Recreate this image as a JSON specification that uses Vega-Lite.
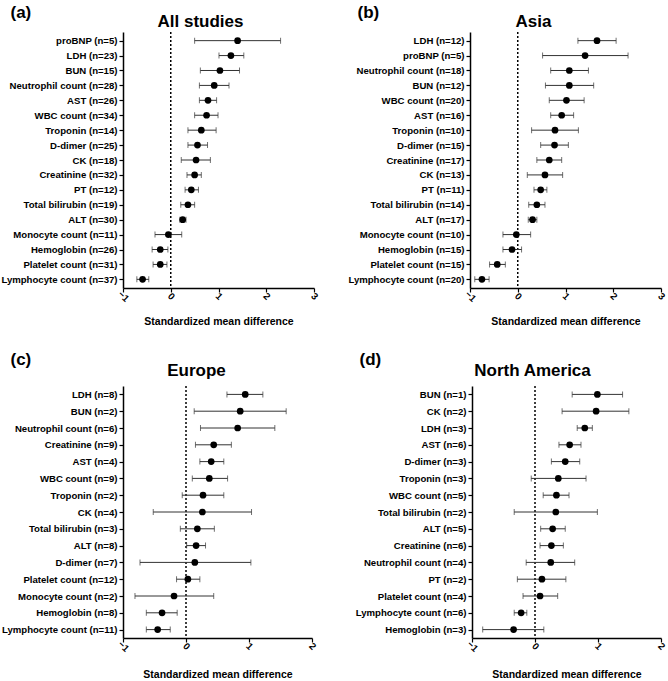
{
  "$schema": "https://vega.github.io/schema/vega-lite/v6.json",
  "padding": {"left": 0, "top": 3, "right": 0, "bottom": 0},
  "background": "white",
  "config": {
    "font": "Liberation Sans",
    "view": {"stroke": null},
    "axis": {"grid": false, "domainColor": "black", "domainWidth": 1.5, "tickColor": "black", "tickWidth": 1.2, "tickSize": 4, "labelColor": "black", "labelFontWeight": "bold", "labelFontSize": 9.6, "titleColor": "black", "titleFontWeight": "bold", "titleFontSize": 10.5},
    "title": {"fontSize": 17, "fontWeight": "bold", "color": "black", "anchor": "middle", "frame": "group"}
  },
  "datasets": {
    "a": [
      {"label": "proBNP (n=5)", "smd": 1.40, "lo": 0.50, "hi": 2.30},
      {"label": "LDH (n=23)", "smd": 1.26, "lo": 1.01, "hi": 1.53},
      {"label": "BUN (n=15)", "smd": 1.03, "lo": 0.62, "hi": 1.44},
      {"label": "Neutrophil count (n=28)", "smd": 0.91, "lo": 0.60, "hi": 1.22},
      {"label": "AST (n=26)", "smd": 0.78, "lo": 0.60, "hi": 0.96},
      {"label": "WBC count (n=34)", "smd": 0.75, "lo": 0.50, "hi": 0.99},
      {"label": "Troponin (n=14)", "smd": 0.64, "lo": 0.36, "hi": 0.95},
      {"label": "D-dimer (n=25)", "smd": 0.56, "lo": 0.36, "hi": 0.77},
      {"label": "CK (n=18)", "smd": 0.53, "lo": 0.22, "hi": 0.83},
      {"label": "Creatinine (n=32)", "smd": 0.50, "lo": 0.34, "hi": 0.64},
      {"label": "PT (n=12)", "smd": 0.43, "lo": 0.30, "hi": 0.58},
      {"label": "Total bilirubin (n=19)", "smd": 0.36, "lo": 0.21, "hi": 0.50},
      {"label": "ALT (n=30)", "smd": 0.25, "lo": 0.19, "hi": 0.32},
      {"label": "Monocyte count (n=11)", "smd": -0.05, "lo": -0.33, "hi": 0.23},
      {"label": "Hemoglobin (n=26)", "smd": -0.22, "lo": -0.39, "hi": -0.06},
      {"label": "Platelet count (n=31)", "smd": -0.22, "lo": -0.37, "hi": -0.08},
      {"label": "Lymphocyte count (n=37)", "smd": -0.59, "lo": -0.71, "hi": -0.46}
    ],
    "b": [
      {"label": "LDH (n=12)", "smd": 1.66, "lo": 1.26, "hi": 2.06},
      {"label": "proBNP (n=5)", "smd": 1.41, "lo": 0.52, "hi": 2.31},
      {"label": "Neutrophil count (n=18)", "smd": 1.08, "lo": 0.69, "hi": 1.48},
      {"label": "BUN (n=12)", "smd": 1.08, "lo": 0.58, "hi": 1.59},
      {"label": "WBC count (n=20)", "smd": 1.02, "lo": 0.66, "hi": 1.39},
      {"label": "AST (n=16)", "smd": 0.92, "lo": 0.69, "hi": 1.17},
      {"label": "Troponin (n=10)", "smd": 0.78, "lo": 0.29, "hi": 1.27},
      {"label": "D-dimer (n=15)", "smd": 0.77, "lo": 0.48, "hi": 1.06},
      {"label": "Creatinine (n=17)", "smd": 0.66, "lo": 0.40, "hi": 0.92},
      {"label": "CK (n=13)", "smd": 0.57, "lo": 0.20, "hi": 0.94},
      {"label": "PT (n=11)", "smd": 0.48, "lo": 0.34, "hi": 0.61},
      {"label": "Total bilirubin (n=14)", "smd": 0.40, "lo": 0.23, "hi": 0.57},
      {"label": "ALT (n=17)", "smd": 0.31, "lo": 0.22, "hi": 0.40},
      {"label": "Monocyte count (n=10)", "smd": -0.03, "lo": -0.31, "hi": 0.27},
      {"label": "Hemoglobin (n=15)", "smd": -0.12, "lo": -0.31, "hi": 0.08},
      {"label": "Platelet count (n=15)", "smd": -0.43, "lo": -0.59, "hi": -0.26},
      {"label": "Lymphocyte count (n=20)", "smd": -0.75, "lo": -0.90, "hi": -0.60}
    ],
    "c": [
      {"label": "LDH (n=8)", "smd": 0.94, "lo": 0.65, "hi": 1.22},
      {"label": "BUN (n=2)", "smd": 0.86, "lo": 0.13, "hi": 1.59},
      {"label": "Neutrophil count (n=6)", "smd": 0.82, "lo": 0.23, "hi": 1.41},
      {"label": "Creatinine (n=9)", "smd": 0.44, "lo": 0.15, "hi": 0.72},
      {"label": "AST (n=4)", "smd": 0.40, "lo": 0.22, "hi": 0.60},
      {"label": "WBC count (n=9)", "smd": 0.37, "lo": 0.10, "hi": 0.66},
      {"label": "Troponin (n=2)", "smd": 0.27, "lo": -0.06, "hi": 0.60},
      {"label": "CK (n=4)", "smd": 0.26, "lo": -0.52, "hi": 1.04},
      {"label": "Total bilirubin (n=3)", "smd": 0.18, "lo": -0.09, "hi": 0.45},
      {"label": "ALT (n=8)", "smd": 0.16, "lo": 0.01, "hi": 0.31},
      {"label": "D-dimer (n=7)", "smd": 0.14, "lo": -0.73, "hi": 1.03},
      {"label": "Platelet count (n=12)", "smd": 0.03, "lo": -0.15, "hi": 0.22},
      {"label": "Monocyte count (n=2)", "smd": -0.19, "lo": -0.81, "hi": 0.44},
      {"label": "Hemoglobin (n=8)", "smd": -0.38, "lo": -0.63, "hi": -0.14},
      {"label": "Lymphocyte count (n=11)", "smd": -0.45, "lo": -0.63, "hi": -0.25}
    ],
    "d": [
      {"label": "BUN (n=1)", "smd": 0.99, "lo": 0.59, "hi": 1.39},
      {"label": "CK (n=2)", "smd": 0.97, "lo": 0.43, "hi": 1.49},
      {"label": "LDH (n=3)", "smd": 0.79, "lo": 0.67, "hi": 0.91},
      {"label": "AST (n=6)", "smd": 0.55, "lo": 0.38, "hi": 0.73},
      {"label": "D-dimer (n=3)", "smd": 0.48, "lo": 0.26, "hi": 0.71},
      {"label": "Troponin (n=3)", "smd": 0.37, "lo": -0.06, "hi": 0.81},
      {"label": "WBC count (n=5)", "smd": 0.34, "lo": 0.13, "hi": 0.54},
      {"label": "Total bilirubin (n=2)", "smd": 0.33, "lo": -0.33, "hi": 0.99},
      {"label": "ALT (n=5)", "smd": 0.28, "lo": 0.09, "hi": 0.48},
      {"label": "Creatinine (n=6)", "smd": 0.26, "lo": 0.08, "hi": 0.45},
      {"label": "Neutrophil count (n=4)", "smd": 0.25, "lo": -0.14, "hi": 0.63},
      {"label": "PT (n=2)", "smd": 0.11, "lo": -0.28, "hi": 0.49},
      {"label": "Platelet count (n=4)", "smd": 0.08, "lo": -0.19, "hi": 0.36},
      {"label": "Lymphocyte count (n=6)", "smd": -0.22, "lo": -0.33, "hi": -0.13},
      {"label": "Hemoglobin (n=3)", "smd": -0.34, "lo": -0.83, "hi": 0.14}
    ],
    "zero": [{"z": 0}]
  },
  "vconcat": [
    {
      "hconcat": [
        {
          "width": 191, "height": 256,
          "title": {"text": "All studies", "dx": -18, "offset": -28},
          "data": {"name": "a"},
          "encoding": {
            "y": {"field": "label", "type": "nominal", "sort": null, "scale": {"type": "point", "padding": 0.58},
              "axis": {"title": "(a)", "titleAngle": 0, "titleAlign": "left", "titleBaseline": "alphabetic", "titleX": -113, "titleY": -15, "titleFontSize": 17, "labelPadding": 2}}
          },
          "layer": [
            {"data": {"name": "zero"}, "mark": {"type": "rule", "strokeDash": [2, 2], "strokeWidth": 1.5, "color": "black"}, "encoding": {"x": {"field": "z", "type": "quantitative"}, "y": null}},
            {"mark": {"type": "errorbar", "color": "#333333", "thickness": 1, "ticks": {"size": 6}}, "encoding": {"x": {"field": "lo", "type": "quantitative", "scale": {"domain": [-1, 3], "nice": false, "zero": false}, "axis": {"values": [-1, 0, 1, 2, 3], "format": "d", "labelAngle": 45, "labelAlign": "center", "labelBaseline": "middle", "labelPadding": 4, "title": "Standardized mean difference", "titlePadding": 13}}, "x2": {"field": "hi"}}},
            {"mark": {"type": "point", "filled": true, "size": 45, "color": "black", "opacity": 1}, "encoding": {"x": {"field": "smd", "type": "quantitative"}}}
          ]
        },
        {
          "width": 191, "height": 256,
          "title": {"text": "Asia", "dx": -32, "offset": -28},
          "data": {"name": "b"},
          "encoding": {
            "y": {"field": "label", "type": "nominal", "sort": null, "scale": {"type": "point", "padding": 0.58},
              "axis": {"title": "(b)", "titleAngle": 0, "titleAlign": "left", "titleBaseline": "alphabetic", "titleX": -113, "titleY": -15, "titleFontSize": 17, "labelPadding": 2}}
          },
          "layer": [
            {"data": {"name": "zero"}, "mark": {"type": "rule", "strokeDash": [2, 2], "strokeWidth": 1.5, "color": "black"}, "encoding": {"x": {"field": "z", "type": "quantitative"}, "y": null}},
            {"mark": {"type": "errorbar", "color": "#333333", "thickness": 1, "ticks": {"size": 6}}, "encoding": {"x": {"field": "lo", "type": "quantitative", "scale": {"domain": [-1, 3], "nice": false, "zero": false}, "axis": {"values": [-1, 0, 1, 2, 3], "format": "d", "labelAngle": 45, "labelAlign": "center", "labelBaseline": "middle", "labelPadding": 4, "title": "Standardized mean difference", "titlePadding": 13}}, "x2": {"field": "hi"}}},
            {"mark": {"type": "point", "filled": true, "size": 45, "color": "black", "opacity": 1}, "encoding": {"x": {"field": "smd", "type": "quantitative"}}}
          ]
        }
      ],
      "spacing": 27
    },
    {
      "hconcat": [
        {
          "width": 189, "height": 252,
          "title": {"text": "Europe", "dx": -21, "offset": -30},
          "data": {"name": "c"},
          "encoding": {
            "y": {"field": "label", "type": "nominal", "sort": null, "scale": {"type": "point", "padding": 0.5},
              "axis": {"title": "(c)", "titleAngle": 0, "titleAlign": "left", "titleBaseline": "alphabetic", "titleX": -113, "titleY": -22, "titleFontSize": 17, "labelPadding": 2}}
          },
          "layer": [
            {"data": {"name": "zero"}, "mark": {"type": "rule", "strokeDash": [2, 2], "strokeWidth": 1.5, "color": "black"}, "encoding": {"x": {"field": "z", "type": "quantitative"}, "y": null}},
            {"mark": {"type": "errorbar", "color": "#333333", "thickness": 1, "ticks": {"size": 6}}, "encoding": {"x": {"field": "lo", "type": "quantitative", "scale": {"domain": [-1, 2], "nice": false, "zero": false}, "axis": {"values": [-1, 0, 1, 2], "format": "d", "labelAngle": 45, "labelAlign": "center", "labelBaseline": "middle", "labelPadding": 4, "title": "Standardized mean difference", "titlePadding": 16}}, "x2": {"field": "hi"}}},
            {"mark": {"type": "point", "filled": true, "size": 45, "color": "black", "opacity": 1}, "encoding": {"x": {"field": "smd", "type": "quantitative"}}}
          ]
        },
        {
          "width": 189, "height": 252,
          "title": {"text": "North America", "dx": -34, "offset": -30},
          "data": {"name": "d"},
          "encoding": {
            "y": {"field": "label", "type": "nominal", "sort": null, "scale": {"type": "point", "padding": 0.5},
              "axis": {"title": "(d)", "titleAngle": 0, "titleAlign": "left", "titleBaseline": "alphabetic", "titleX": -113, "titleY": -22, "titleFontSize": 17, "labelPadding": 2}}
          },
          "layer": [
            {"data": {"name": "zero"}, "mark": {"type": "rule", "strokeDash": [2, 2], "strokeWidth": 1.5, "color": "black"}, "encoding": {"x": {"field": "z", "type": "quantitative"}, "y": null}},
            {"mark": {"type": "errorbar", "color": "#333333", "thickness": 1, "ticks": {"size": 6}}, "encoding": {"x": {"field": "lo", "type": "quantitative", "scale": {"domain": [-1, 2], "nice": false, "zero": false}, "axis": {"values": [-1, 0, 1, 2], "format": "d", "labelAngle": 45, "labelAlign": "center", "labelBaseline": "middle", "labelPadding": 4, "title": "Standardized mean difference", "titlePadding": 16}}, "x2": {"field": "hi"}}},
            {"mark": {"type": "point", "filled": true, "size": 45, "color": "black", "opacity": 1}, "encoding": {"x": {"field": "smd", "type": "quantitative"}}}
          ]
        }
      ],
      "spacing": 37
    }
  ],
  "spacing": 23
}
